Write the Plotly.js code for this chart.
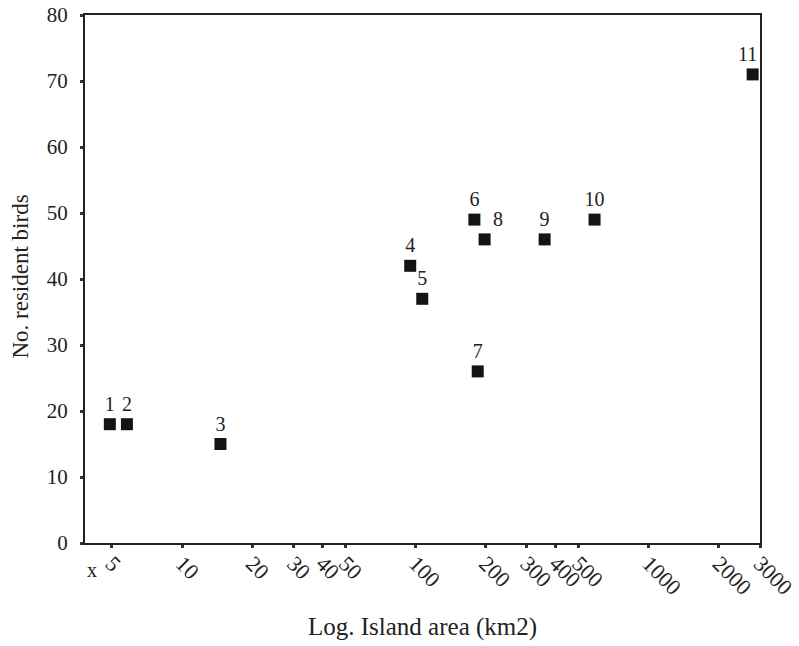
<!DOCTYPE html>
<html>
<head>
<meta charset="utf-8">
<script src="https://cdn.plot.ly/plotly-3.0.1.min.js"></script>
<style>html,body{margin:0;padding:0;background:#fff;}#chart{width:799px;height:646px;}</style>
</head>
<body>
<div id="chart"></div>
<script>
// Data
const islandLabels = ["1","2","3","4","5","6","7","8","9","10","11\u2002"];
const islandArea = [4.9, 5.8, 14.6, 95, 107, 179, 185, 198, 358, 586, 2790];
const residentBirds = [18, 18, 15, 42, 37, 49, 26, 46, 46, 49, 71];
const labelPositions = ["top center","top center","top center","top center","top center","top center","top center","top right","top center","top center","top center"];

const xTickVals = [5, 10, 20, 30, 40, 50, 100, 200, 300, 400, 500, 1000, 2000, 3000];
const xTickText = ["5","10","20","30","40","50","100","200","300","400","500","1000","2000","3000"];
const yTickVals = [0, 10, 20, 30, 40, 50, 60, 70, 80];
const yTickText = ["0","10","20","30","40","50","60","70","80"];

const serif = "Liberation Serif";

const trace = {
  x: islandArea,
  y: residentBirds,
  text: islandLabels,
  mode: "markers+text",
  type: "scatter",
  textposition: labelPositions,
  textfont: {family: serif, size: 20, color: "#222"},
  marker: {symbol: "square", size: 12, color: "#141414"},
  cliponaxis: false,
  hoverinfo: "x+y"
};

const layout = {
  width: 799,
  height: 646,
  margin: {l: 85, r: 39, t: 15, b: 103},
  paper_bgcolor: "#fff",
  plot_bgcolor: "#fff",
  showlegend: false,
  font: {family: serif, size: 19, color: "#222"},
  xaxis: {
    type: "log",
    range: [0.5837, Math.log10(3000)],
    tickvals: xTickVals,
    ticktext: xTickText,
    tickangle: 45,
    ticks: "outside",
    ticklen: 3,
    tickwidth: 3,
    tickcolor: "#333",
    showline: true,
    linecolor: "#222",
    linewidth: 2,
    mirror: true,
    showgrid: false,
    zeroline: false,
    ticklabelstandoff: -6,
    tickfont: {family: serif, size: 22, color: "#222"}
  },
  yaxis: {
    range: [0, 80],
    tickvals: yTickVals,
    ticktext: yTickText,
    ticks: "outside",
    ticklen: 3,
    tickwidth: 3,
    tickcolor: "#333",
    showline: true,
    linecolor: "#222",
    linewidth: 2,
    mirror: true,
    showgrid: false,
    zeroline: false,
    ticklabelstandoff: 8,
    tickfont: {family: serif, size: 21, color: "#222"}
  },
  annotations: [
    {text: "x", xref: "paper", yref: "paper", x: 0.011, y: -0.052, xanchor: "center", yanchor: "middle", showarrow: false, font: {family: serif, size: 20, color: "#222"}},
    {text: "Log. Island area (km2)", xref: "paper", yref: "paper", x: 0.5, y: -0.16, xanchor: "center", yanchor: "middle", showarrow: false, font: {family: serif, size: 25, color: "#222"}},
    {text: "No. resident birds", xref: "paper", yref: "paper", x: -0.096, y: 0.505, xanchor: "center", yanchor: "middle", textangle: -90, showarrow: false, font: {family: serif, size: 23, color: "#222"}}
  ]
};

Plotly.newPlot("chart", [trace], layout, {displayModeBar: false, staticPlot: true});
</script>
</body>
</html>
